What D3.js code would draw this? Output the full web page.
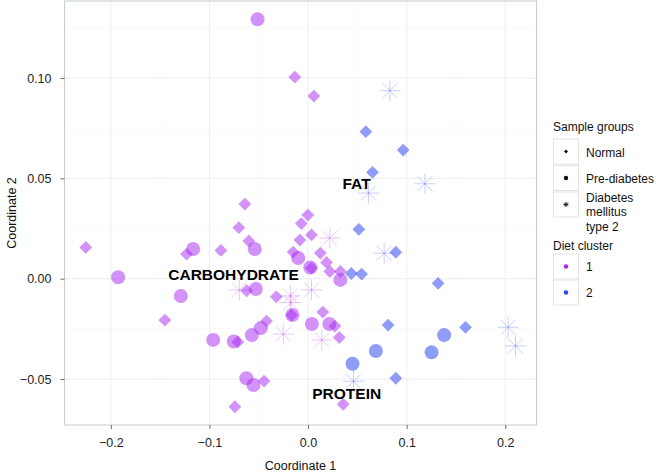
<!DOCTYPE html>
<html>
<head>
<meta charset="utf-8">
<script src="https://cdn.jsdelivr.net/npm/d3@7"></script>
<style>
html,body{margin:0;padding:0;background:#fff;}
svg{display:block;font-family:"Liberation Sans",Arial,Helvetica,sans-serif;}
</style>
</head>
<body>
<svg id="chart" width="656" height="472"></svg>
<script>
// ---- data ----
const groups = ["Normal", "Pre-diabetes", "Diabetes mellitus type 2"];
const clusters = ["1", "2"];
const xTicks = [-0.2, -0.1, 0.0, 0.1, 0.2];
const yTicks = [-0.05, 0.00, 0.05, 0.10];
const loadings = ["FAT", "CARBOHYDRATE", "PROTEIN"];
const loadingX = [0.0492, -0.0755, 0.0392];
const loadingY = [0.0474, 0.0022, -0.0572];

const c1Normal = [[-0.0134,0.1005],[0.0059,0.0910],[-0.0641,0.0372],[-0.0002,0.0317],[-0.0068,0.0275],
  [-0.0702,0.0255],[0.0035,0.0218],[-0.0083,0.0193],[-0.0600,0.0188],[-0.2254,0.0156],[-0.0884,0.0141],
  [-0.1232,0.0123],[-0.0151,0.0133],[0.0125,0.0128],[0.0188,0.0081],[0.0035,0.0053],[0.0221,0.0036],
  [0.0328,0.0036],[-0.0621,-0.0059],[-0.0322,-0.0090],[-0.0167,-0.0181],[-0.1452,-0.0206],[0.0150,-0.0166],
  [-0.0421,-0.0211],[0.0272,-0.0236],[0.0317,-0.0293],[-0.0712,-0.0315],[-0.0446,-0.0510],[-0.0742,-0.0638],
  [0.0356,-0.0626]];
const c1Pre = [[-0.0512,0.1293],[-0.1165,0.0148],[-0.0540,0.0148],[-0.0100,0.0103],[0.0023,0.0056],
  [0.0328,-0.0006],[-0.1926,0.0007],[-0.0529,-0.0051],[-0.1290,-0.0086],[-0.0159,-0.0181],[0.0039,-0.0226],
  [0.0216,-0.0226],[-0.0479,-0.0246],[-0.0570,-0.0281],[-0.0962,-0.0305],[-0.0753,-0.0313],[-0.0626,-0.0496],
  [-0.0553,-0.0530]];
const c1Diab = [[0.0221,0.0203],[-0.0697,-0.0056],[0.0035,-0.0056],[-0.0180,-0.0086],[-0.0174,-0.0119],
  [-0.0251,-0.0276],[0.0140,-0.0305]];
const c2Normal = [[0.0586,0.0733],[0.0965,0.0641],[0.0654,0.0530],[0.0515,0.0246],[0.0890,0.0132],
  [0.0439,0.0026],[0.0543,0.0023],[0.1319,-0.0023],[0.0812,-0.0231],[0.1597,-0.0242],[0.0890,-0.0496]];
const c2Pre = [[0.1380,-0.0281],[0.0688,-0.0360],[0.1253,-0.0367],[0.0451,-0.0424]];
const c2Diab = [[0.0830,0.0937],[0.0614,0.0427],[0.1185,0.0473],[0.0772,0.0127],[0.2029,-0.0242],
  [0.2104,-0.0335],[0.0461,-0.0511]];

// ---- build table ----
const points = [];
[[c1Normal,0,0],[c1Pre,1,0],[c1Diab,2,0],[c2Normal,0,1],[c2Pre,1,1],[c2Diab,2,1]].forEach(([arr,g,c]) => {
  arr.forEach(d => points.push({x:d[0], y:d[1], group:groups[g], cluster:clusters[c]}));
});

const colors = {"1":"#a826f2","2":"#2a44ee"};
const svg = d3.select("#chart");
const L = 64.5, R = 536.5, T = 1, B = 425;
const x = d3.scaleLinear().domain([-0.247, 0.2317]).range([L, R]);
const y = d3.scaleLinear().domain([-0.0729, 0.1384]).range([B, T]);

// panel
svg.append("rect").attr("x",L).attr("y",T).attr("width",R-L).attr("height",B-T).attr("fill","#fff");
const grid = svg.append("g");
const minorX = d3.range(-0.25, 0.26, 0.05).filter(v => x(v) > L && x(v) < R);
const minorY = d3.range(-0.075, 0.14, 0.025).filter(v => y(v) > T && y(v) < B);
grid.selectAll(".mx").data(minorX).join("line").attr("x1",d=>x(d)).attr("x2",d=>x(d)).attr("y1",T).attr("y2",B)
  .attr("stroke",d=>xTicks.some(t=>Math.abs(t-d)<1e-9)?"#ececec":"#f5f5f5").attr("stroke-width",d=>xTicks.some(t=>Math.abs(t-d)<1e-9)?0.9:0.6);
grid.selectAll(".my").data(minorY).join("line").attr("y1",d=>y(d)).attr("y2",d=>y(d)).attr("x1",L).attr("x2",R)
  .attr("stroke",d=>yTicks.some(t=>Math.abs(t-d)<1e-9)?"#ececec":"#f5f5f5").attr("stroke-width",d=>yTicks.some(t=>Math.abs(t-d)<1e-9)?0.9:0.6);

// symbols
const diamondPath = (s) => { const p = d3.path(); p.moveTo(0,-s); p.lineTo(s,0); p.lineTo(0,s); p.lineTo(-s,0); p.closePath(); return p.toString(); };
const asteriskPath = (r) => { const p = d3.path(); const a = r*Math.SQRT1_2;
  p.moveTo(-r,0); p.lineTo(r,0); p.moveTo(0,-r); p.lineTo(0,r);
  p.moveTo(-a,-a); p.lineTo(a,a); p.moveTo(-a,a); p.lineTo(a,-a); return p.toString(); };

const pts = svg.append("g");
points.forEach(d => {
  const cx = x(d.x), cy = y(d.y), col = colors[d.cluster];
  const op = d.cluster === "1" ? 0.5 : 0.52;
  if (d.group === groups[0]) {
    pts.append("path").attr("d", diamondPath(6.4)).attr("transform",`translate(${cx},${cy})`)
      .attr("fill", col).attr("fill-opacity", op);
  } else if (d.group === groups[1]) {
    pts.append("circle").attr("cx",cx).attr("cy",cy).attr("r",7).attr("fill",col).attr("fill-opacity",op);
  } else {
    pts.append("path").attr("d", asteriskPath(10.5)).attr("transform",`translate(${cx},${cy})`)
      .attr("fill","none").attr("stroke", col).attr("stroke-opacity",0.26).attr("stroke-width",1);
  }
});

// loading labels
svg.append("g").selectAll("text").data(loadings).join("text")
  .attr("x",(d,i)=>x(loadingX[i])).attr("y",(d,i)=>y(loadingY[i]))
  .attr("text-anchor","middle").attr("dominant-baseline","central")
  .attr("font-weight","bold").attr("font-size",15.5).attr("fill","#000").text(d=>d);

// border
svg.append("rect").attr("x",L).attr("y",T).attr("width",R-L).attr("height",B-T)
  .attr("fill","none").attr("stroke","#c6cfcf").attr("stroke-width",1.1);

// axes
const xAxis = svg.append("g").attr("transform",`translate(0,${B})`)
  .call(d3.axisBottom(x).tickValues(xTicks).tickFormat(d3.format(".1f")).tickSize(4).tickPadding(9));
const yAxis = svg.append("g").attr("transform",`translate(${L},0)`)
  .call(d3.axisLeft(y).tickValues(yTicks).tickFormat(d3.format(".2f")).tickSize(4).tickPadding(9));
[xAxis, yAxis].forEach(a => {
  a.select(".domain").remove();
  a.selectAll(".tick line").attr("stroke","#6b6b6b");
  a.selectAll("text").attr("font-size",12.5).attr("fill","#222").attr("font-family","Liberation Sans, Arial, sans-serif");
});
svg.append("text").attr("x",(L+R)/2).attr("y",470).attr("text-anchor","middle").attr("font-size",12.5).attr("fill","#111").text("Coordinate 1");
svg.append("text").attr("transform",`translate(16,${(T+B)/2}) rotate(-90)`).attr("text-anchor","middle").attr("font-size",12.5).attr("fill","#111").text("Coordinate 2");

// legend
const lg = svg.append("g").attr("font-size",12).attr("fill","#111");
lg.append("text").attr("x",553).attr("y",131).text("Sample groups");
const keyTop = [139, 165.5, 192];
groups.forEach((g,i) => {
  lg.append("rect").attr("x",553.5).attr("y",keyTop[i]).attr("width",25).attr("height",25)
    .attr("fill","#fff").attr("stroke","#e4e4e4").attr("stroke-width",1);
  const kx = 566, ky = keyTop[i]+12.5;
  if (i===0) lg.append("path").attr("d",diamondPath(2)).attr("transform",`translate(${kx},${ky})`).attr("fill","#111");
  else if (i===1) lg.append("circle").attr("cx",kx).attr("cy",ky).attr("r",2.2).attr("fill","#111");
  else lg.append("path").attr("d",asteriskPath(2.6)).attr("transform",`translate(${kx},${ky})`).attr("stroke","#111").attr("stroke-width",0.9).attr("fill","none");
});
lg.append("text").attr("x",586).attr("y",157).text("Normal");
lg.append("text").attr("x",586).attr("y",182.5).text("Pre-diabetes");
const dl = lg.append("text").attr("x",586).attr("y",201.5);
["Diabetes","mellitus","type 2"].forEach((t,i)=> dl.append("tspan").attr("x",586).attr("dy", i===0?0:14.6).text(t));
lg.append("text").attr("x",553).attr("y",249.5).text("Diet cluster");
const ckTop = [254, 280];
clusters.forEach((c,i) => {
  lg.append("rect").attr("x",553.5).attr("y",ckTop[i]).attr("width",25).attr("height",25)
    .attr("fill","#fff").attr("stroke","#e4e4e4").attr("stroke-width",1);
  lg.append("circle").attr("cx",566).attr("cy",ckTop[i]+12.5).attr("r",2.2).attr("fill",colors[c]);
  lg.append("text").attr("x",586).attr("y",ckTop[i]+17).text(c);
});
</script>
</body>
</html>
